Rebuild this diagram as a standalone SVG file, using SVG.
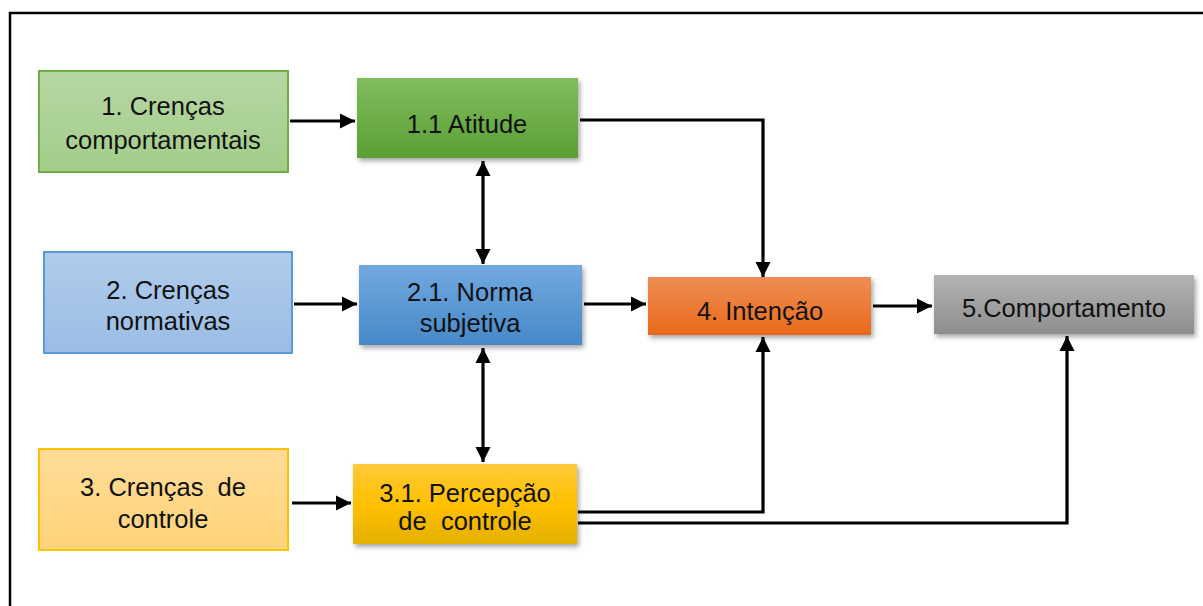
<svg xmlns="http://www.w3.org/2000/svg" width="1203" height="606" viewBox="0 0 1203 606">
  <style>
    text { font-family: "Liberation Sans", Arial, sans-serif; font-size: 25.5px; fill: #111; text-anchor: middle; }
    .conn { fill: none; stroke: #000; stroke-width: 3.2; }
    .light { stroke-width: 2; }
  </style>
  <defs>
    <linearGradient id="gAtt" x1="0" y1="0" x2="0" y2="1">
      <stop offset="0" stop-color="#80bd5e"/><stop offset="1" stop-color="#5b9f34"/>
    </linearGradient>
    <linearGradient id="gNorm" x1="0" y1="0" x2="0" y2="1">
      <stop offset="0" stop-color="#72a9df"/><stop offset="1" stop-color="#4789c9"/>
    </linearGradient>
    <linearGradient id="gPerc" x1="0" y1="0" x2="0" y2="1">
      <stop offset="0" stop-color="#ffca3a"/><stop offset="0.5" stop-color="#ffc000"/><stop offset="1" stop-color="#e5b000"/>
    </linearGradient>
    <linearGradient id="gInt" x1="0" y1="0" x2="0" y2="1">
      <stop offset="0" stop-color="#f08d54"/><stop offset="1" stop-color="#e96a1a"/>
    </linearGradient>
    <linearGradient id="gComp" x1="0" y1="0" x2="0" y2="1">
      <stop offset="0" stop-color="#b3b3b3"/><stop offset="1" stop-color="#8e8e8e"/>
    </linearGradient>
    <linearGradient id="gL1" x1="0" y1="0" x2="0" y2="1">
      <stop offset="0" stop-color="#b6d7a3"/><stop offset="1" stop-color="#a3cd89"/>
    </linearGradient>
    <linearGradient id="gL2" x1="0" y1="0" x2="0" y2="1">
      <stop offset="0" stop-color="#b0cbeb"/><stop offset="1" stop-color="#9bbde5"/>
    </linearGradient>
    <linearGradient id="gL3" x1="0" y1="0" x2="0" y2="1">
      <stop offset="0" stop-color="#ffdc97"/><stop offset="1" stop-color="#ffd37a"/>
    </linearGradient>
    <filter id="shadow" x="-10%" y="-20%" width="125%" height="150%">
      <feDropShadow dx="2" dy="3" stdDeviation="2.5" flood-color="#000" flood-opacity="0.35"/>
    </filter>
    <marker id="arr" viewBox="0 0 10 10" refX="10" refY="5" markerWidth="4.8" markerHeight="4.8" orient="auto-start-reverse" markerUnits="strokeWidth">
      <path d="M0,0 L10,5 L0,10 z" fill="#000"/>
    </marker>
  </defs>

  <!-- outer frame -->
  <rect x="10" y="13" width="1200" height="600" fill="#fff" stroke="#000" stroke-width="2.5"/>

  <!-- connectors -->
  <g id="connectors">
    <line class="conn" x1="290" y1="121" x2="355" y2="121" marker-end="url(#arr)"/>
    <line class="conn" x1="294" y1="304" x2="357" y2="304" marker-end="url(#arr)"/>
    <line class="conn" x1="292" y1="503" x2="351" y2="503" marker-end="url(#arr)"/>
    <line class="conn" x1="584" y1="304" x2="646" y2="304" marker-end="url(#arr)"/>
    <line class="conn" x1="873" y1="306" x2="932" y2="306" marker-end="url(#arr)"/>
    <polyline class="conn" points="580,120 763,120 763,277" marker-end="url(#arr)"/>
    <line class="conn" x1="483" y1="161" x2="483" y2="264" marker-start="url(#arr)" marker-end="url(#arr)"/>
    <line class="conn" x1="483" y1="348" x2="483" y2="462" marker-start="url(#arr)" marker-end="url(#arr)"/>
    <polyline class="conn" points="578,512 763,512 763,337" marker-end="url(#arr)"/>
    <polyline class="conn" points="578,523 1067,523 1067,336" marker-end="url(#arr)"/>
  </g>

  <g id="crencas-comportamentais">
    <rect class="light" x="39" y="71" width="249" height="101" fill="url(#gL1)" stroke="#70ad47"/>
    <text x="163" y="115">1. Crenças</text>
    <text x="163" y="149">comportamentais</text>
  </g>
  <g id="atitude">
    <rect x="357" y="78" width="221" height="80" fill="url(#gAtt)" filter="url(#shadow)"/>
    <text x="467" y="133">1.1 Atitude</text>
  </g>
  <g id="crencas-normativas">
    <rect class="light" x="44" y="252" width="248" height="101" fill="url(#gL2)" stroke="#5b9bd5"/>
    <text x="168" y="299">2. Crenças</text>
    <text x="168" y="330">normativas</text>
  </g>
  <g id="norma-subjetiva">
    <rect x="359" y="265" width="223" height="80" fill="url(#gNorm)" filter="url(#shadow)"/>
    <text x="470" y="301">2.1. Norma</text>
    <text x="470" y="332">subjetiva</text>
  </g>
  <g id="crencas-controle">
    <rect class="light" x="39" y="449" width="249" height="101" fill="url(#gL3)" stroke="#ffc000"/>
    <text x="163" y="496" xml:space="preserve">3. Crenças  de</text>
    <text x="163" y="528">controle</text>
  </g>
  <g id="percepcao-controle">
    <rect x="353" y="464" width="224" height="80" fill="url(#gPerc)" filter="url(#shadow)"/>
    <text x="465" y="502">3.1. Percepção</text>
    <text x="465" y="530" xml:space="preserve">de  controle</text>
  </g>
  <g id="intencao">
    <rect x="648" y="277" width="223" height="58" fill="url(#gInt)" filter="url(#shadow)"/>
    <text x="760" y="320">4. Intenção</text>
  </g>
  <g id="comportamento">
    <rect x="934" y="275" width="260" height="59" fill="url(#gComp)" filter="url(#shadow)"/>
    <text x="1064" y="317">5.Comportamento</text>
  </g>
</svg>
